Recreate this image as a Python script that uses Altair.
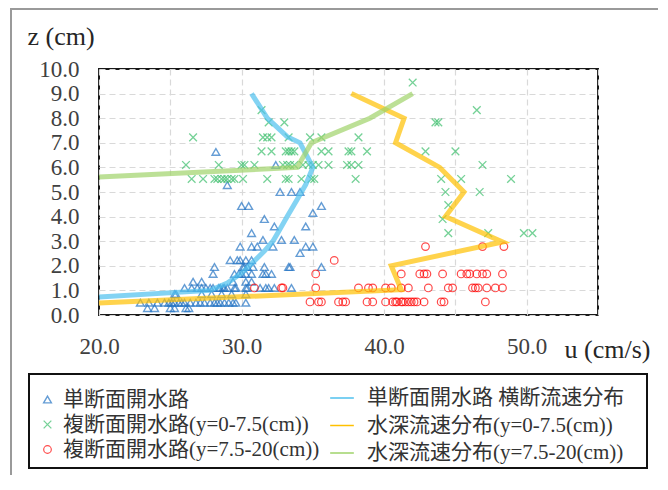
import altair as alt
import pandas as pd

# ---------------- data ----------------
point_names = ["単断面開水路", "複断面開水路(y=0-7.5(cm))", "複断面開水路(y=7.5-20(cm))"]
line_names = ["単断面開水路  横断流速分布", "水深流速分布(y=0-7.5(cm))", "水深流速分布(y=7.5-20(cm))"]

# 単断面開水路 : z -> list of u
simple_rows = {
    0.28: [23.4, 23.9, 25.0, 25.3, 26.1, 26.3],
    0.5: [22.9, 23.5, 24.1, 24.6, 24.9, 25.1, 25.3, 25.6, 25.8, 26.0, 26.4, 26.8,
          27.1, 27.4, 27.8, 28.1, 28.3, 28.5, 28.8, 29.1, 29.4, 29.6, 30.3],
    0.85: [25.3, 25.4, 27.2, 27.9, 28.6, 29.3, 30.3],
    1.1: [26.0, 26.5, 26.9, 27.2, 27.5, 27.8, 28.0, 28.4, 28.5, 28.7, 28.8, 29.0,
          29.5, 29.6, 30.3, 30.4, 31.3, 31.7, 31.9, 32.3, 33.5],
    1.35: [26.6, 27.2, 29.4, 30.3, 30.7],
    1.67: [28.0, 29.5, 29.8, 30.0, 30.3, 30.7, 31.5, 31.7, 32.1],
    1.95: [28.1, 30.1, 30.2, 30.4, 30.8, 31.6, 33.3, 33.4, 35.6],
    2.23: [29.2, 29.7, 29.9, 30.3, 30.7],
    2.52: [34.1],
    2.78: [29.9, 30.7, 31.1, 32.2, 34.5, 35.0],
    3.05: [31.5, 32.8, 33.7],
    3.33: [30.7],
    3.6: [32.3, 34.5],
    3.9: [31.6],
    4.15: [35.0],
    4.43: [30.0, 30.5, 35.6],
    5.0: [32.7, 33.5, 34.1],
    5.28: [29.0],
    6.1: [32.4],
    6.63: [28.2],
}

# 複断面開水路(y=0-7.5(cm))
inner_rows = {
    3.33: [44.5, 47.3, 49.8, 50.4],
    3.9: [44.1],
    4.47: [44.5],
    5.0: [44.3, 46.7],
    5.53: [26.5, 27.3, 28.1, 28.3, 28.6, 28.8, 29.0, 29.3, 29.5, 30.1, 31.8, 33.1,
           33.3, 34.2, 34.9, 35.1, 38.0, 44.0, 45.4, 48.9],
    6.1: [26.1, 28.4, 30.0, 30.2, 30.9, 32.9, 33.2, 33.4, 33.7, 34.3, 34.7, 35.0,
          35.4, 36.1, 37.4, 37.7, 38.2, 46.9],
    6.65: [31.4, 32.1, 33.1, 33.3, 33.5, 33.7, 35.6, 36.1, 37.5, 37.7, 38.8, 42.9, 45.0],
    7.22: [26.6, 31.5, 31.8, 32.1, 33.3, 34.8, 35.6, 38.2],
    7.83: [31.9, 33.0, 43.6, 43.8],
    8.33: [31.4, 46.5],
    9.45: [42.0],
}

# 複断面開水路(y=7.5-20(cm))
outer_rows = {
    0.53: [34.8, 35.4, 35.6, 36.8, 37.1, 37.3, 38.8, 39.2, 40.1, 40.6, 40.8, 40.9,
           41.2, 41.3, 41.5, 41.7, 41.9, 42.1, 42.3, 42.8, 44.0, 44.2, 47.1],
    1.1: [30.9, 32.8, 32.9, 35.2, 38.2, 38.9, 39.2, 40.1, 40.5, 41.2, 41.7, 43.1,
          44.5, 44.8, 46.2, 46.4, 46.6, 47.2, 47.8, 48.3],
    1.67: [35.2, 41.2, 42.5, 42.8, 43.0, 44.1, 45.4, 45.8, 46.0, 46.5, 46.9, 47.2, 48.3],
    2.22: [36.5],
    2.78: [42.9, 46.9, 48.4],
}

# profile lines
simple_line_u = [20.0, 27.8, 29.0, 30.0, 30.9, 31.6, 32.2, 32.7, 33.2, 33.9, 34.5, 35.0, 34.1, 33.2, 31.8, 30.7]
simple_line_z = [0.73, 1.0, 1.3, 1.7, 2.2, 2.6, 3.0, 3.5, 4.0, 4.7, 5.3, 6.0, 7.0, 7.25, 8.0, 9.0]
inner_line_u = [20.0, 41.2, 40.5, 48.3, 44.3, 45.6, 43.9, 40.8, 41.4, 37.7]
inner_line_z = [0.49, 1.03, 2.0, 2.97, 4.0, 5.0, 6.0, 7.0, 8.0, 9.0]
outer_line_u = [20.0, 33.9, 34.9, 39.0, 42.0]
outer_line_z = [5.61, 6.0, 7.0, 8.0, 9.0]

x_ticks = [20, 25, 30, 35, 40, 45, 50, 55]
y_ticks = [0, 1, 2, 3, 4, 5, 6, 7, 8, 9, 10]

point_colors = ["#2474c4", "#3cbf6c", "#ff0000"]
point_shapes = ["triangle-up", "M-1,-1L1,1M-1,1L1,-1", "circle"]
point_sizes = [60, 58, 52]
point_strokes = [1.4, 1.2, 2.0]
line_colors = ["#4fc0ee", "#ffc000", "#9fd36a"]

# ---------------- tables ----------------
rows = []
for name, table in zip(point_names, [simple_rows, inner_rows, outer_rows]):
    for z, us in table.items():
        for u in us:
            rows.append({"series": name, "u": u, "z": z})
pts_df = pd.DataFrame(rows)

lrows = []
for name, us, zs in zip(line_names,
                        [simple_line_u, inner_line_u, outer_line_u],
                        [simple_line_z, inner_line_z, outer_line_z]):
    for i, (u, z) in enumerate(zip(us, zs)):
        lrows.append({"line": name, "u": u, "z": z, "i": i})
line_df = pd.DataFrame(lrows)

# ---------------- encodings ----------------
SERIF = "Liberation Serif"
LEG_FONT = "Liberation Serif, Noto Sans CJK JP, serif"

x_axis = alt.Axis(
    values=x_ticks,
    labelExpr="datum.value % 10 === 0 && datum.value < 55 ? format(datum.value, '.1f') : ''",
    title="u (cm/s)", titleAngle=0, titleAlign="left", titleBaseline="alphabetic",
    titleX=465, titleY=42, labelPadding=20, labelFlush=False, labelOverlap=False,
)
y_axis = alt.Axis(
    values=y_ticks, format=".1f",
    title="z (cm)", titleAngle=0, titleAlign="left", titleBaseline="alphabetic",
    titleX=-72, titleY=-25, labelPadding=20, labelFlush=False, labelOverlap=False,
)
X = alt.X("u:Q", scale=alt.Scale(domain=[20, 55], nice=False, zero=False), axis=x_axis)
Y = alt.Y("z:Q", scale=alt.Scale(domain=[0, 10], nice=False, zero=False), axis=y_axis)

pt_legend = alt.Legend(
    title=None, orient="none", legendX=-62, legendY=320, direction="vertical",
    labelFont=LEG_FONT, labelFontSize=21, labelColor="#333333", labelLimit=400,
    symbolStrokeWidth=1.6, symbolSize=70, labelOffset=5, rowPadding=3,
)
ln_legend = alt.Legend(
    title=None, orient="none", legendX=230, legendY=316, direction="vertical",
    labelFont=LEG_FONT, labelFontSize=21, labelColor="#333333", labelLimit=400,
    symbolType="stroke", symbolStrokeWidth=1.5, symbolSize=560, labelOffset=12,
    rowPadding=4.5, symbolOpacity=1,
)

pts = alt.Chart(pts_df).mark_point(filled=False).encode(
    x=X, y=Y,
    color=alt.Color("series:N", scale=alt.Scale(domain=point_names, range=point_colors),
                    legend=pt_legend),
    shape=alt.Shape("series:N", scale=alt.Scale(domain=point_names, range=point_shapes),
                    legend=pt_legend),
    size=alt.Size("series:N", scale=alt.Scale(domain=point_names, range=point_sizes), legend=None),
    strokeWidth=alt.StrokeWidth("series:N", scale=alt.Scale(domain=point_names, range=point_strokes),
                                legend=None),
)

lines = alt.Chart(line_df).mark_line(strokeWidth=5, opacity=0.7, clip=True).encode(
    x=X, y=Y, order="i:Q",
    color=alt.Color("line:N", scale=alt.Scale(domain=line_names, range=line_colors),
                    legend=ln_legend),
)

dummy = pd.DataFrame({"a": [0]})
frame = alt.Chart(dummy).mark_rect(fill="transparent", stroke="#9a9a9a", strokeWidth=2).encode(
    x=alt.value(-88), x2=alt.value(561), y=alt.value(-60), y2=alt.value(440))
legend_box = alt.Chart(dummy).mark_rect(fill="transparent", stroke="#111111", strokeWidth=2).encode(
    x=alt.value(-70), x2=alt.value(548), y=alt.value(305), y2=alt.value(399))

chart = alt.layer(frame, legend_box, pts, lines).resolve_scale(
    color="independent", shape="independent", size="independent", strokeWidth="independent"
).properties(
    width=499, height=246,
    padding={"left": 91, "top": 61, "right": 60, "bottom": 160},
    autosize=alt.AutoSizeParams(type="none"),
).configure(
    font=SERIF
).configure_view(
    stroke="#1a1a1a", strokeWidth=2
).configure_axis(
    grid=True, gridColor="#d9d9d9", gridDash=[6, 4], gridWidth=1.2,
    domain=False, ticks=False,
    labelFont=SERIF, labelFontSize=23, labelColor="#404040",
    titleFont=SERIF, titleFontSize=26, titleColor="#262626", titleFontWeight="normal",
)

chart.save("out.html", embed_options={"renderer": "svg", "actions": False})
